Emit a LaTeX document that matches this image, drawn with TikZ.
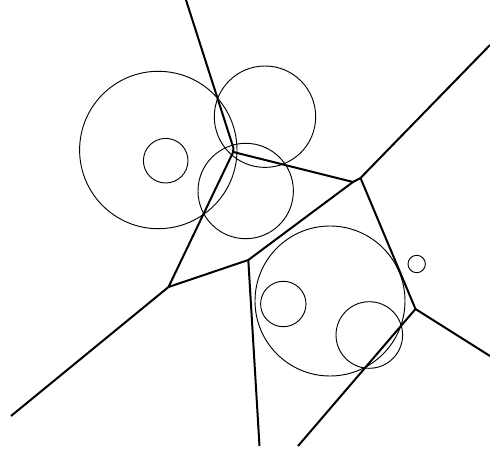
\documentclass[tikz,border=0pt]{standalone}
\begin{document}
\begin{tikzpicture}[x=0.75pt,y=-0.75pt,
  edge/.style={line width=1.5pt,line join=round},
  ring/.style={line width=0.7pt}]
\useasboundingbox (0,0) rectangle (490,453);
% vertices
\coordinate (A1) at (233.3,147.5);
\coordinate (A2) at (233.2,152);
\coordinate (B1) at (353,182);
\coordinate (B2) at (360.5,178);
\coordinate (C) at (415.5,309);
\coordinate (D) at (248.3,260);
\coordinate (E) at (168.5,287);
% free ends
\coordinate (T) at (186,0);
\coordinate (UR) at (490,45);
\coordinate (R) at (490,356);
\coordinate (BR) at (298,446);
\coordinate (BM) at (259.5,446);
\coordinate (L) at (11,416);
% edges
\draw[edge] (T) -- (A1) -- (A2);
\draw[edge] (A2) -- (B1) -- (B2);
\draw[edge] (B2) -- (UR);
\draw[edge] (B2) -- (C);
\draw[edge] (C) -- (R);
\draw[edge] (C) -- (BR);
\draw[edge] (B1) -- (D);
\draw[edge] (D) -- (BM);
\draw[edge] (D) -- (E);
\draw[edge] (E) -- (L);
\draw[edge] (E) -- (A2);
% circles
\draw[ring] (158.3,150) circle[radius=78.7*0.75pt];
\draw[ring] (165.7,160.7) circle[radius=22.3*0.75pt];
\draw[ring] (265,116.7) circle[radius=50.7*0.75pt];
\draw[ring] (245.7,191) circle[radius=47.7*0.75pt];
\draw[ring] (330,301) circle[radius=75*0.75pt];
\draw[ring] (283.3,304) circle[radius=22.7*0.75pt];
\draw[ring] (369.3,335) circle[radius=33.3*0.75pt];
\draw[ring] (416.7,264) circle[radius=8.7*0.75pt];
\end{tikzpicture}
\end{document}
